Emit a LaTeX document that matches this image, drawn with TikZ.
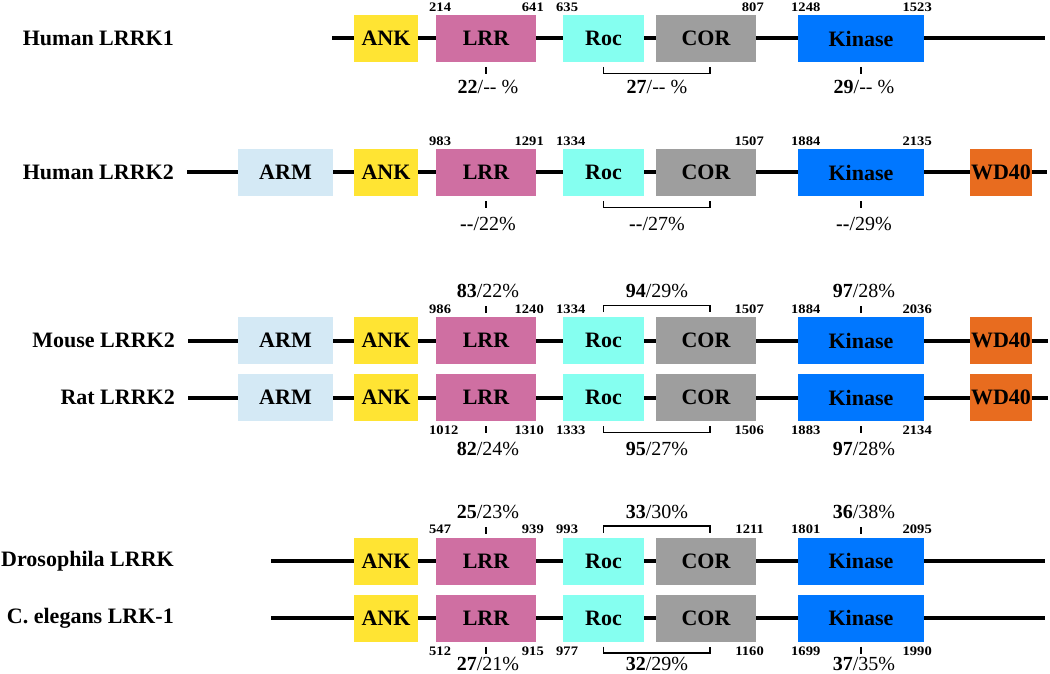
\documentclass[tikz,border=0pt]{standalone}
\usepackage{fontspec}
\setmainfont{Liberation Serif}
\usepackage{graphicx}
\definecolor{ankc}{RGB}{255,228,51}
\definecolor{lrrc}{RGB}{207,111,162}
\definecolor{rocc}{RGB}{133,255,240}
\definecolor{corc}{RGB}{158,158,158}
\definecolor{kinc}{RGB}{0,119,255}
\definecolor{armc}{RGB}{212,233,245}
\definecolor{wdc}{RGB}{232,108,31}
\newcommand\hsc[1]{\scalebox{1.12}[1]{#1}}
\newcommand\corerow[2]{%
 \node[dom,fill=ankc,minimum width=64pt] (#1ank) at (386,#2) {ANK};
 \node[dom,fill=lrrc,minimum width=100pt] (#1lrr) at (486,#2) {LRR};
 \node[dom,fill=rocc,minimum width=81pt] (#1roc) at (603.5,#2) {Roc};
 \node[dom,fill=corc,minimum width=100pt] (#1cor) at (706,#2) {COR};
 \node[dom,fill=kinc,minimum width=126pt] (#1kin) at (861,#2) {Kinase};
}
\newcommand\extrarow[2]{%
 \node[dom,fill=armc,minimum width=95pt] (#1arm) at (285.5,#2) {ARM};
 \node[dom,fill=wdc,minimum width=62pt] (#1wd) at (1001,#2) {WD40};
}
\newcommand\topnums[7]{%
 \node[numl] (#1n1) at ([shift={(-7,-8)}]#1lrr.north west) {\hsc{#2}};
 \node[numr] (#1n2) at ([shift={(8,-8)}]#1lrr.north east) {\hsc{#3}};
 \node[numl] (#1n3) at ([shift={(-7,-8)}]#1roc.north west) {\hsc{#4}};
 \node[numr] (#1n4) at ([shift={(8,-8)}]#1cor.north east) {\hsc{#5}};
 \node[numl] (#1n5) at ([shift={(-7,-8)}]#1kin.north west) {\hsc{#6}};
 \node[numr] (#1n6) at ([shift={(8,-8)}]#1kin.north east) {\hsc{#7}};
}
\newcommand\botnums[7]{%
 \node[numl] (#1n1) at ([shift={(-7,9.5)}]#1lrr.south west) {\hsc{#2}};
 \node[numr] (#1n2) at ([shift={(8,9.5)}]#1lrr.south east) {\hsc{#3}};
 \node[numl] (#1n3) at ([shift={(-7,9.5)}]#1roc.south west) {\hsc{#4}};
 \node[numr] (#1n4) at ([shift={(8,9.5)}]#1cor.south east) {\hsc{#5}};
 \node[numl] (#1n5) at ([shift={(-7,9.5)}]#1kin.south west) {\hsc{#6}};
 \node[numr] (#1n6) at ([shift={(8,9.5)}]#1kin.south east) {\hsc{#7}};
}
\newcommand\belowmarks[5]{%
 \draw[idtick] ([shift={(0,5)}]#1lrr.south) -- ([shift={(0,12)}]#1lrr.south);
 \draw[brk] ([shift={(0,5)}]#1roc.south) -- ([shift={(0,11.5)}]#1roc.south) -- ([shift={(4,11.5)}]#1cor.south) -- ([shift={(4,5)}]#1cor.south);
 \draw[idtick] ([shift={(0,5)}]#1kin.south) -- ([shift={(0,12)}]#1kin.south);
 \node[pct] (#1p1) at ([shift={(2,#5)}]#1lrr.south) {#2};
 \node[pct] (#1p2) at ([shift={(-49,#5)}]#1cor.south) {#3};
 \node[pct] (#1p3) at ([shift={(3,#5)}]#1kin.south) {#4};
}
\newcommand\abovemarks[5]{%
 \draw[idtick] ([shift={(0,-4)}]#1lrr.north) -- ([shift={(0,-11)}]#1lrr.north);
 \draw[brk] ([shift={(0,-5)}]#1roc.north) -- ([shift={(0,-11.5)}]#1roc.north) -- ([shift={(4,-11.5)}]#1cor.north) -- ([shift={(4,-5)}]#1cor.north);
 \draw[idtick] ([shift={(0,-4)}]#1kin.north) -- ([shift={(0,-11)}]#1kin.north);
 \node[pct] (#1p1) at ([shift={(2,-#5)}]#1lrr.north) {#2};
 \node[pct] (#1p2) at ([shift={(-49,-#5)}]#1cor.north) {#3};
 \node[pct] (#1p3) at ([shift={(3,-#5)}]#1kin.north) {#4};
}
\newcommand\dd{{-}{-}}
\begin{document}
\begin{tikzpicture}[x=1pt,y=-1pt,
  backbone/.style={line width=4pt},
  dom/.style={inner sep=0pt, outer sep=0pt, minimum height=47pt, text=black, font=\fontsize{22}{22}\selectfont\bfseries},
  species/.style={anchor=east, inner sep=0pt, font=\fontsize{22}{22}\selectfont\bfseries},
  numl/.style={anchor=west, inner sep=0pt, font=\fontsize{13}{13}\selectfont\bfseries},
  numr/.style={anchor=east, inner sep=0pt, font=\fontsize{13}{13}\selectfont\bfseries},
  pct/.style={inner sep=0pt, font=\fontsize{20}{20}\selectfont},
  idtick/.style={line width=2pt},
  brk/.style={line width=1.8pt}]
\useasboundingbox[fill=white] (0,0) rectangle (1050,674);

% Human LRRK1
\node[species] (sp1) at (174,38.5) {Human LRRK1};
\coordinate (l1s) at (332,38.5); \coordinate (l1e) at (1045,38.5);
\draw[backbone] (l1s) -- (l1e);
\corerow{a}{38.5}
\topnums{a}{214}{641}{635}{807}{1248}{1523}
\belowmarks{a}{\textbf{22}/\dd{} \%}{\textbf{27}/\dd{} \%}{\textbf{29}/\dd{} \%}{25}

% Human LRRK2
\node[species] (sp2) at (174,172.5) {Human LRRK2};
\coordinate (l2s) at (187,172.5); \coordinate (l2e) at (1047,172.5);
\draw[backbone] (l2s) -- (l2e);
\corerow{b}{172.5}
\extrarow{b}{172.5}
\topnums{b}{983}{1291}{1334}{1507}{1884}{2135}
\belowmarks{b}{\textbf{\dd}/22\%}{\textbf{\dd}/27\%}{\textbf{\dd}/29\%}{28}

% Mouse LRRK2
\node[species] (sp3) at (175,340.5) {Mouse LRRK2};
\coordinate (l3s) at (188,340.5); \coordinate (l3e) at (1048,340.5);
\draw[backbone] (l3s) -- (l3e);
\corerow{c}{340.5}
\extrarow{c}{340.5}
\topnums{c}{986}{1240}{1334}{1507}{1884}{2036}
\abovemarks{c}{\textbf{83}/22\%}{\textbf{94}/29\%}{\textbf{97}/28\%}{26}

% Rat LRRK2
\node[species] (sp4) at (175,397.5) {Rat LRRK2};
\coordinate (l4s) at (188,397.5); \coordinate (l4e) at (1048,397.5);
\draw[backbone] (l4s) -- (l4e);
\corerow{d}{397.5}
\extrarow{d}{397.5}
\botnums{d}{1012}{1310}{1333}{1506}{1883}{2134}
\belowmarks{d}{\textbf{82}/24\%}{\textbf{95}/27\%}{\textbf{97}/28\%}{28}

% Drosophila LRRK
\node[species] (sp5) at (174,561) {Drosophila LRRK};
\coordinate (l5s) at (271,561); \coordinate (l5e) at (1045,561);
\draw[backbone] (l5s) -- (l5e);
\corerow{e}{561}
\topnums{e}{547}{939}{993}{1211}{1801}{2095}
\abovemarks{e}{\textbf{25}/23\%}{\textbf{33}/30\%}{\textbf{36}/38\%}{26}

% C. elegans LRK-1
\node[species] (sp6) at (174,618) {C. elegans LRK-1};
\coordinate (l6s) at (271,618); \coordinate (l6e) at (1045,618);
\draw[backbone] (l6s) -- (l6e);
\corerow{f}{618}
\botnums{f}{512}{915}{977}{1160}{1699}{1990}
\belowmarks{f}{\textbf{27}/21\%}{\textbf{32}/29\%}{\textbf{37}/35\%}{22}
\end{tikzpicture}
\end{document}
